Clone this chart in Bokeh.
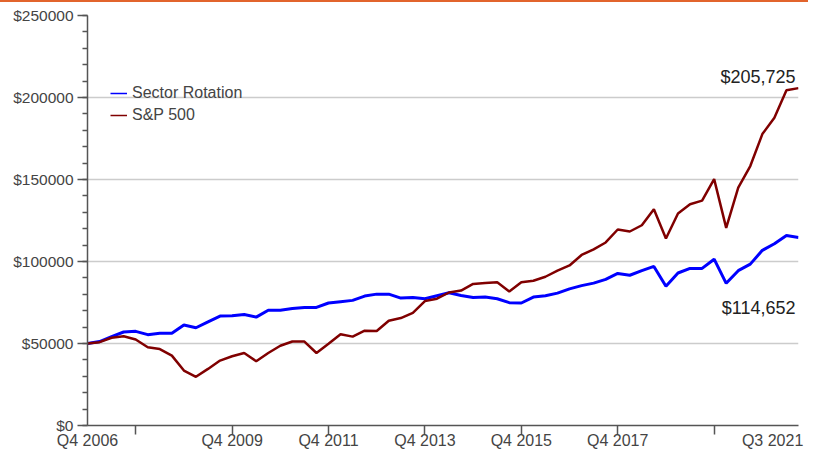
from bokeh.plotting import figure
from bokeh.layouts import column
from bokeh.models import Range1d, FixedTicker, Legend, LegendItem, Label, LinearAxis, Div
from bokeh.embed import file_html
from bokeh.resources import INLINE

# ---- data -------------------------------------------------------------
quarters = [f"Q{(3 + i) % 4 + 1} {2006 + (3 + i) // 4}" for i in range(60)]

sector_rotation = [
    50000, 51200, 54200, 57000, 57400, 55400, 56200, 56200, 61300, 59600,
    63200, 66700, 66900, 67700, 66100, 70300, 70300, 71300, 72000, 72000,
    74700, 75500, 76300, 78900, 80100, 80100, 77700, 78100, 77300, 79100,
    80900, 79300, 78100, 78300, 77300, 74900, 74700, 78300, 79100, 80700,
    83300, 85300, 86800, 89100, 92700, 91600, 94400, 97000, 84900, 93000,
    95800, 95800, 101400, 86700, 94400, 98400, 106800, 110800, 115800, 114652,
]
sp500 = [
    50000, 50800, 53500, 54400, 52400, 47700, 46600, 42600, 33500, 29700,
    34500, 39600, 42200, 44200, 39200, 44200, 48600, 51200, 51200, 44200,
    49800, 55700, 54200, 57800, 57600, 63900, 65500, 68700, 75900, 77300,
    81100, 82300, 86300, 86900, 87300, 81700, 87300, 88300, 90700, 94400,
    97600, 104000, 107400, 111600, 119500, 118300, 122100, 131900, 114000, 129300,
    134900, 137100, 150200, 120500, 145000, 158200, 177700, 187700, 204400, 205725,
]
series_names = ["Sector Rotation", "S&P 500"]

tick_quarters = ["Q4 2007", "Q4 2009", "Q4 2011", "Q4 2013", "Q4 2015", "Q4 2017", "Q4 2019"]
labelled_quarters = ["Q4 2006", "Q4 2009", "Q4 2011", "Q4 2013", "Q4 2015", "Q4 2017", "Q3 2021"]

y_major = [0, 50000, 100000, 150000, 200000, 250000]
y_minor = [0, 10000, 20000, 30000, 40000, 50000, 60000, 70000, 80000, 90000, 100000,
           110000, 120000, 130000, 140000, 150000, 160000, 170000, 180000, 190000, 200000,
           210000, 220000, 230000, 240000, 250000]
y_labels = ["$0", "$50000", "$100000", "$150000", "$200000", "$250000"]

# ---- styling ----------------------------------------------------------
FONT = "Liberation Sans"
TXT = "#444444"
AXIS = "#555555"
BLUE = "#0000ff"
RED = "#800000"
ORANGE = "#e2642c"
NAN = float("nan")

x = list(range(len(quarters)))

p = figure(width=808, height=449, output_backend="svg", toolbar_location=None,
           x_range=Range1d(0, len(quarters) - 1), y_range=Range1d(0, 250000),
           min_border_left=87, min_border_right=10, min_border_top=13, min_border_bottom=24)
p.outline_line_color = None
p.background_fill_color = "white"

r1 = p.line(x, sector_rotation, line_color=BLUE, line_width=3)
r2 = p.line(x, sp500, line_color=RED, line_width=2.5)
# thin samples used only by the legend (no visible data)
k1 = p.line([0], [NAN], line_color=BLUE, line_width=1.5)
k2 = p.line([0], [NAN], line_color=RED, line_width=1.5)

# x axis: ticks (primary) ...
xt = [quarters.index(q) for q in tick_quarters]
p.xaxis.ticker = FixedTicker(ticks=xt, minor_ticks=[])
p.xaxis.major_label_overrides = {t: "" for t in xt}
p.xaxis.major_label_standoff = 0
p.xaxis.major_label_text_font_size = "1px"
p.xgrid.visible = False

# ... and a label-only axis beneath it (last label kept inside the plot edge)
lab_pos = [quarters.index(q) for q in labelled_quarters]
lab_pos[-1] = lab_pos[-1] - 2.15
lab_axis = LinearAxis(ticker=FixedTicker(ticks=lab_pos, minor_ticks=[]),
                      major_label_overrides=dict(zip(lab_pos, labelled_quarters)),
                      axis_line_color=None, major_tick_line_color=None,
                      minor_tick_line_color=None, major_tick_out=0, major_tick_in=0,
                      major_label_standoff=-3, major_label_text_font=FONT,
                      major_label_text_color=TXT, major_label_text_font_size="16px")
p.add_layout(lab_axis, "below")

# y axis
p.yaxis.ticker = FixedTicker(ticks=y_major, minor_ticks=y_minor)
p.yaxis.major_label_overrides = dict(zip(y_major, y_labels))
p.yaxis.major_label_text_font_size = "15.5px"
p.yaxis.major_label_standoff = 4
p.ygrid.grid_line_color = "#cccccc"
p.ygrid.grid_line_width = 1.5

for ax in (p.xaxis[0], p.yaxis[0]):
    ax.axis_line_color = AXIS
    ax.axis_line_width = 1.5
    ax.major_tick_line_color = AXIS
    ax.minor_tick_line_color = AXIS
    ax.major_tick_line_width = 1.5
    ax.minor_tick_line_width = 1.5
    ax.major_tick_out = 9
    ax.major_tick_in = 0
    ax.minor_tick_out = 5
    ax.minor_tick_in = 0
    ax.major_label_text_font = FONT
    ax.major_label_text_color = TXT
p.yaxis.major_tick_out = 10

# final value labels
p.add_layout(Label(x=x[-1], y=sp500[-1], y_offset=1, x_offset=-3,
                   text=f"${sp500[-1]:,}", text_align="right", text_baseline="bottom",
                   text_font=FONT, text_font_size="18px", text_color="#222222"))
p.add_layout(Label(x=x[-1], y=sector_rotation[-1], y_offset=-61, x_offset=-3,
                   text=f"${sector_rotation[-1]:,}", text_align="right", text_baseline="top",
                   text_font=FONT, text_font_size="18px", text_color="#222222"))

legend = Legend(items=[LegendItem(label=series_names[0], renderers=[k1]),
                       LegendItem(label=series_names[1], renderers=[k2])],
                location=(23, 300), padding=0, margin=0, spacing=2,
                glyph_width=17, glyph_height=20, label_height=20, label_standoff=5,
                border_line_color=None, background_fill_alpha=0,
                label_text_font=FONT, label_text_font_size="16px", label_text_color=TXT)
p.add_layout(legend)

# thin orange rule along the top edge of the panel
top_rule = Div(text="", width=808, height=2, margin=0,
               styles={"background-color": ORANGE})

layout = column(top_rule, p, spacing=0)

open("out.html", "w").write(file_html(layout, INLINE))
